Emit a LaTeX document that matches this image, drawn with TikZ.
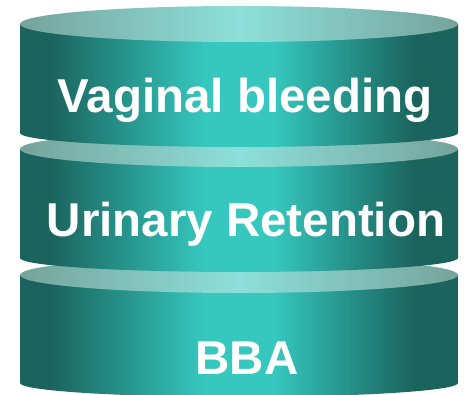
\documentclass[tikz,border=0pt]{standalone}
\usepackage{fontspec}
\setmainfont{Liberation Sans}
\usepackage{tikz}
\usetikzlibrary{positioning}

\definecolor{tealdark}{RGB}{27,100,93}
\definecolor{tealmid}{RGB}{38,148,140}
\definecolor{teallight}{RGB}{54,199,190}
\definecolor{lidedge}{RGB}{118,163,156}
\definecolor{lidcenter}{RGB}{142,224,218}

\pgfdeclarehorizontalshading{sideshade}{100bp}{
	color(0bp)=(tealdark); color(25bp)=(tealdark); color(28.5bp)=(tealdark);
	color(37bp)=(tealmid);
	color(46bp)=(teallight); color(54bp)=(teallight);
	color(62bp)=(tealmid);
	color(70bp)=(tealdark); color(75bp)=(tealdark); color(100bp)=(tealdark)}
\pgfdeclarehorizontalshading{lidshade}{100bp}{
	color(0bp)=(lidedge); color(25bp)=(lidedge);
	color(50bp)=(lidcenter);
	color(75bp)=(lidedge); color(100bp)=(lidedge)}

\begin{document}
\begin{tikzpicture}[
	x=1pt, y=1pt,
	side/.style={shading=sideshade, draw=none},
	lid/.style={shading=lidshade, draw=none},
	label/.style={
		anchor=base, text=white,
		font=\bfseries\fontsize{47.5}{50}\selectfont
	}
	]
	\useasboundingbox (0,0) rectangle (465,395);
	
	% cylinders, drawn from the bottom one up
	\foreach \ytop/\ybot in {120/12, 246/137, 371/262} {
		\shade[side] (20,\ytop) -- (20,\ybot)
			arc[start angle=180, end angle=360, x radius=219, y radius=14]
			-- (458,\ytop) -- cycle;
		\shade[lid] (239,\ytop) ellipse[x radius=219, y radius=18];
	}
	
	% labels
	\node[label] (bleeding) at (245,282) {Vaginal bleeding};
	\node[label] (retention) at (246,158) {Urinary Retention};
	\node[label] (bba) at (247,20) {BBA};
\end{tikzpicture}
\end{document}
